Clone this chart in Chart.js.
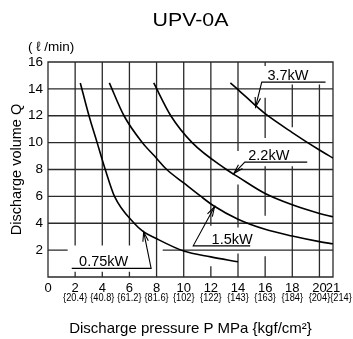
<!DOCTYPE html>
<html>
<head>
<meta charset="utf-8">
<script src="https://cdn.jsdelivr.net/npm/chart.js@4.4.0/dist/chart.umd.min.js"></script>
<style>
    html, body { margin: 0; padding: 0; background: #fff; }
</style>
</head>
<body>
<canvas id="pumpChart" width="353" height="339"></canvas>
<script>
// Axes
const xTicks = [0, 2, 4, 6, 8, 10, 12, 14, 16, 18, 20, 21];
const kgfLabels = ['', '{20.4}', '{40.8}', '{61.2}', '{81.6}', '{102}', '{122}', '{143}', '{163}', '{184}', '{204}', '{214}'];
const yTicks = [2, 4, 6, 8, 10, 12, 14, 16];

const seriesNames = ['0.75kW', '1.5kW', '2.2kW', '3.7kW'];

// 0.75kW  (P MPa / Q l/min)
const p075 = [2.38, 3.02, 3.62, 4.22, 4.9, 6.35, 7.0, 7.9, 10, 12, 14];
const q075 = [14.44, 12, 10, 8, 6, 4, 3.4, 2.9, 1.93, 1.5, 1.13];
// 1.5kW
const p15 = [4.52, 5.6, 6.95, 7.85, 8.75, 10, 11.2, 12.2, 14, 16, 18, 20, 21];
const q15 = [14.45, 12, 10, 9, 8, 7.0, 6.05, 5.3, 4.3, 3.55, 3.05, 2.63, 2.47];
// 2.2kW
const p22 = [7.79, 9.05, 10.62, 13.15, 14, 16, 18, 20, 21];
const q22 = [14.44, 12, 10, 8, 7.45, 6.21, 5.37, 4.73, 4.48];
// 3.7kW
const p37 = [13.44, 14, 15.3, 16, 18, 20, 21];
const q37 = [14.44, 13.95, 12.75, 12.15, 10.75, 9.45, 8.85];

const FONT = '"Liberation Sans", Arial, "DejaVu Sans", sans-serif';

// Mise en page : trous dans la grille (autour des étiquettes), flèches des étiquettes
const colGaps = {
    2: [[0.35, 2.4]], 4: [[0.35, 2.4]], 6: [[0.35, 2.4]],
    12: [[0.76, 3.86]],
    14: [[1.7, 3.73], [6.83, 9.43]],
    16: [[1.5, 4.6], [8.2, 10.4], [13.3, 15.75]],
    18: [[8.2, 11.2], [14.27, 16]],
    20: [[14.27, 16]]
};
const rowGaps = { 2: [[1.4, 8.5]] };
const callouts = [
    { tip: [7.05, 3.36], knee: [7.6, 0.64], tail: 1.75, textX: 4.1 },
    { tip: [12.27, 5.22], knee: [10.7, 2.32], tail: 14.9, textX: 13.57 },
    { tip: [13.69, 7.7], knee: [14.5, 8.55], tail: 19.1, textX: 16.27 },
    { tip: [15.29, 12.65], knee: [15.75, 14.5], tail: 20.45, textX: 17.68 }
];

function openRuns(lo, hi, gaps) {
    const runs = [];
    let start = lo;
    (gaps || []).slice().sort((a, b) => a[0] - b[0]).forEach(([g0, g1]) => {
        if (g0 > start) runs.push([start, g0]);
        start = Math.max(start, g1);
    });
    if (start < hi) runs.push([start, hi]);
    return runs;
}

const decor = {
    id: 'decor',
    beforeDatasetsDraw(chart) {
        const { ctx, scales: { x, y } } = chart;
        ctx.save();
        ctx.strokeStyle = '#2a2a2a';
        ctx.lineWidth = 1.3;
        ctx.lineCap = 'square';
        ctx.beginPath();
        xTicks.forEach(v => {
            const px = x.getPixelForValue(v);
            openRuns(y.min, y.max, colGaps[v]).forEach(([a, b]) => {
                ctx.moveTo(px, y.getPixelForValue(a));
                ctx.lineTo(px, y.getPixelForValue(b));
            });
        });
        [y.min, ...yTicks].forEach(v => {
            const py = y.getPixelForValue(v);
            openRuns(x.min, x.max, rowGaps[v]).forEach(([a, b]) => {
                ctx.moveTo(x.getPixelForValue(a), py);
                ctx.lineTo(x.getPixelForValue(b), py);
            });
        });
        ctx.stroke();
        ctx.restore();
    },
    afterDatasetsDraw(chart) {
        const { ctx, scales: { x, y } } = chart;
        ctx.save();
        ctx.strokeStyle = '#000';
        ctx.fillStyle = '#000';
        ctx.lineWidth = 1.1;
        callouts.forEach((c, i) => {
            const tx = x.getPixelForValue(c.tip[0]), ty = y.getPixelForValue(c.tip[1]);
            const kx = x.getPixelForValue(c.knee[0]), ky = y.getPixelForValue(c.knee[1]);
            const ex = x.getPixelForValue(c.tail);
            ctx.beginPath();
            ctx.moveTo(ex, ky);
            ctx.lineTo(kx, ky);
            ctx.lineTo(tx, ty);
            ctx.stroke();
            // pointe de flèche ouverte
            const ang = Math.atan2(ty - ky, tx - kx);
            const L = 10, w = 0.28;
            ctx.beginPath();
            ctx.moveTo(tx - L * Math.cos(ang - w), ty - L * Math.sin(ang - w));
            ctx.lineTo(tx, ty);
            ctx.lineTo(tx - L * Math.cos(ang + w), ty - L * Math.sin(ang + w));
            ctx.stroke();
            ctx.font = '14.5px ' + FONT;
            ctx.textAlign = 'center';
            ctx.textBaseline = 'alphabetic';
            ctx.fillText(seriesNames[i], x.getPixelForValue(c.textX), ky - 2);
        });
        ctx.restore();
    },
    afterDraw(chart) {
        const { ctx, chartArea: a, scales: { x } } = chart;
        ctx.save();
        ctx.fillStyle = '#000';
        // titre
        ctx.font = '17.5px ' + FONT;
        ctx.textAlign = 'center';
        ctx.textBaseline = 'alphabetic';
        ctx.translate((a.left + a.right) / 2, 26);
        ctx.scale(1.22, 1);
        ctx.fillText('UPV-0A', 0, 0);
        ctx.restore();

        ctx.save();
        ctx.fillStyle = '#000';
        ctx.font = '13.5px ' + FONT;
        ctx.textAlign = 'left';
        ctx.textBaseline = 'alphabetic';
        ctx.fillText('( \u2113 /min)', 28, 51);

        // deuxième ligne des graduations {kgf/cm2}, police étroite
        const sx = 0.84;
        ctx.font = '11px ' + FONT;
        ctx.textAlign = 'center';
        ctx.textBaseline = 'middle';
        let prevRight = -Infinity;
        xTicks.forEach((v, i) => {
            const t = kgfLabels[i];
            if (!t) return;
            const w = ctx.measureText(t).width * sx;
            let cx = x.getPixelForValue(v);
            if (cx - w / 2 < prevRight) cx = prevRight + w / 2;
            ctx.save();
            ctx.translate(cx, x.top + 21);
            ctx.scale(sx, 1);
            ctx.fillText(t, 0, 0);
            ctx.restore();
            prevRight = cx + w / 2;
        });
        ctx.restore();
    }
};

const curves = [[p075, q075], [p15, q15], [p22, q22], [p37, q37]];

const chart = new Chart(document.getElementById('pumpChart'), {
    type: 'line',
    data: {
        datasets: curves.map(([p, q], i) => ({
            label: seriesNames[i],
            data: p.map((v, j) => ({ x: v, y: q[j] })),
            borderColor: '#000',
            borderWidth: 1.6,
            pointRadius: 0,
            fill: false,
            cubicInterpolationMode: 'monotone'
        }))
    },
    options: {
        responsive: false,
        animation: false,
        devicePixelRatio: 1,
        layout: { padding: { top: 62, right: 20, bottom: 0, left: 0 } },
        plugins: {
            legend: { display: false },
            tooltip: { enabled: false },
            title: { display: false }
        },
        scales: {
            x: {
                type: 'linear',
                min: 0,
                max: 21,
                afterBuildTicks: s => { s.ticks = xTicks.map(v => ({ value: v })); },
                afterFit: s => { s.height = 62; },
                grid: { display: false, drawTicks: false },
                border: { display: false },
                ticks: {
                    autoSkip: false,
                    maxRotation: 0,
                    padding: 4,
                    color: '#000',
                    font: { family: FONT, size: 13 },
                    callback: v => String(v)
                },
                title: {
                    display: true,
                    text: 'Discharge pressure P MPa {kgf/cm\u00b2}',
                    color: '#000',
                    font: { family: FONT, size: 15 },
                    padding: { top: 0, bottom: 1 }
                }
            },
            y: {
                type: 'linear',
                min: 0,
                max: 16,
                afterBuildTicks: s => { s.ticks = yTicks.map(v => ({ value: v })); },
                afterFit: s => { s.width = 48; },
                grid: { display: false, drawTicks: false },
                border: { display: false },
                ticks: {
                    padding: 5,
                    color: '#000',
                    font: { family: FONT, size: 13.5 },
                    callback: v => String(v)
                },
                title: {
                    display: true,
                    text: 'Discharge volume Q',
                    color: '#000',
                    font: { family: FONT, size: 14.5 },
                    padding: { top: 8, bottom: 0 }
                }
            }
        }
    },
    plugins: [decor]
});
</script>
</body>
</html>
